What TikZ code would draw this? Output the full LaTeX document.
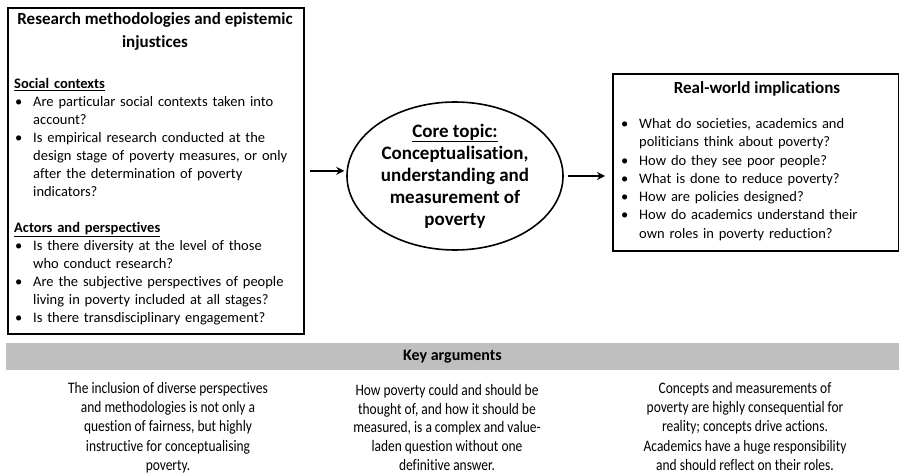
\documentclass[tikz,border=0pt]{standalone}
\usepackage{fontspec}
\setmainfont{Carlito}[Ligatures=NoCommon]
\newfontfamily\narrowfont{Carlito}[FakeStretch=0.84, Ligatures=NoCommon]
\usetikzlibrary{positioning}
\usetikzlibrary{shapes.geometric}
\usetikzlibrary{arrows.meta}

\newcommand{\bitem}[1]{\par\noindent\hangindent=19pt\hangafter=1\makebox[19pt][l]{\hspace{1pt}\textbullet}#1\par}
\newcommand{\uhead}[1]{\par\noindent\underline{\textbf{#1}}\par}

\tikzset{
  frame/.style={draw, line width=1.6pt, inner sep=0pt},
  bodytext/.style={anchor=north west, align=left, inner sep=0pt, text width=285pt, font=\fontsize{14.5}{18}\selectfont},
  arrowline/.style={-{Stealth[length=8pt,width=8pt]}, line width=2pt},
  argtext/.style={anchor=north, align=center, inner sep=0pt, font=\narrowfont\fontsize{16}{19.3}\selectfont},
}

\begin{document}
\begin{tikzpicture}[x=1pt,y=-1pt]
                \useasboundingbox (0,0) rectangle (899,473);
                % left box
                \node[frame, anchor=north west, minimum width=296pt, minimum height=326pt] (methods) at (7,7) {};
                \node[anchor=north, align=center, inner sep=0pt, font=\fontsize{17}{23}\selectfont\bfseries] (methodstitle) at (155,12)
                      {Research methodologies and epistemic\\injustices};
                \node[bodytext] (social) at (14,70) {%
                  \uhead{Social contexts}
                  \bitem{Are particular social contexts taken into\newline account?}
                  \bitem{Is empirical research conducted at the\newline design stage of poverty measures, or only\newline after the determination of poverty\newline indicators?}
                  \vspace{18pt}
                  \uhead{Actors and perspectives}
                  \bitem{Is there diversity at the level of those\newline who conduct research?}
                  \bitem{Are the subjective perspectives of people\newline living in poverty included at all stages?}
                  \bitem{Is there transdisciplinary engagement?}};
                % core topic
                \node[ellipse, draw, line width=1.6pt, minimum width=216pt, minimum height=148pt, inner sep=0pt,
                      align=center, font=\fontsize{19}{22}\selectfont\bfseries] (core) at (455,176)
                      {\underline{Core topic:}\\Conceptualisation,\\understanding and\\measurement of\\poverty};
                % right box
                \node[frame, anchor=north west, minimum width=286pt, minimum height=177pt] (implications) at (612,73) {};
                \node[anchor=north, inner sep=0pt, font=\fontsize{17}{20}\selectfont\bfseries] (implicationstitle) at (757,81) {Real-world implications};
                \node[bodytext, text width=272pt, font=\fontsize{14.5}{18.3}\selectfont] (questions) at (620,110) {%
                  \bitem{What do societies, academics and\newline politicians think about poverty?}
                  \bitem{How do they see poor people?}
                  \bitem{What is done to reduce poverty?}
                  \bitem{How are policies designed?}
                  \bitem{How do academics understand their\newline own roles in poverty reduction?}};
                % arrows
                \draw[arrowline, shorten <=5pt, shorten >=2pt] (methods.east) -- (core.west |- methods.east);
                \draw[arrowline, shorten <=4pt, shorten >=7pt] (core.east) -- (core.east -| implications.west);
                % key arguments
                \node[fill=black!25, minimum width=893pt, minimum height=27pt, inner sep=0pt,
                      font=\fontsize{16}{17}\selectfont\bfseries] (keybar) at (452.5,356.5) {Key arguments};
                \node[argtext] (arg1) at (168,382) {The inclusion of diverse perspectives\\and methodologies is not only a\\question of fairness, but highly\\instructive for conceptualising\\poverty.};
                \node[argtext, font=\narrowfont\fontsize{16}{18.8}\selectfont] (arg2) at (447,384) {How poverty could and should be\\thought of, and how it should be\\measured, is a complex and value-\\laden question without one\\definitive answer.};
                \node[argtext] (arg3) at (745,382) {Concepts and measurements of\\poverty are highly consequential for\\reality; concepts drive actions.\\Academics have a huge responsibility\\and should reflect on their roles.};
\end{tikzpicture}
\end{document}
